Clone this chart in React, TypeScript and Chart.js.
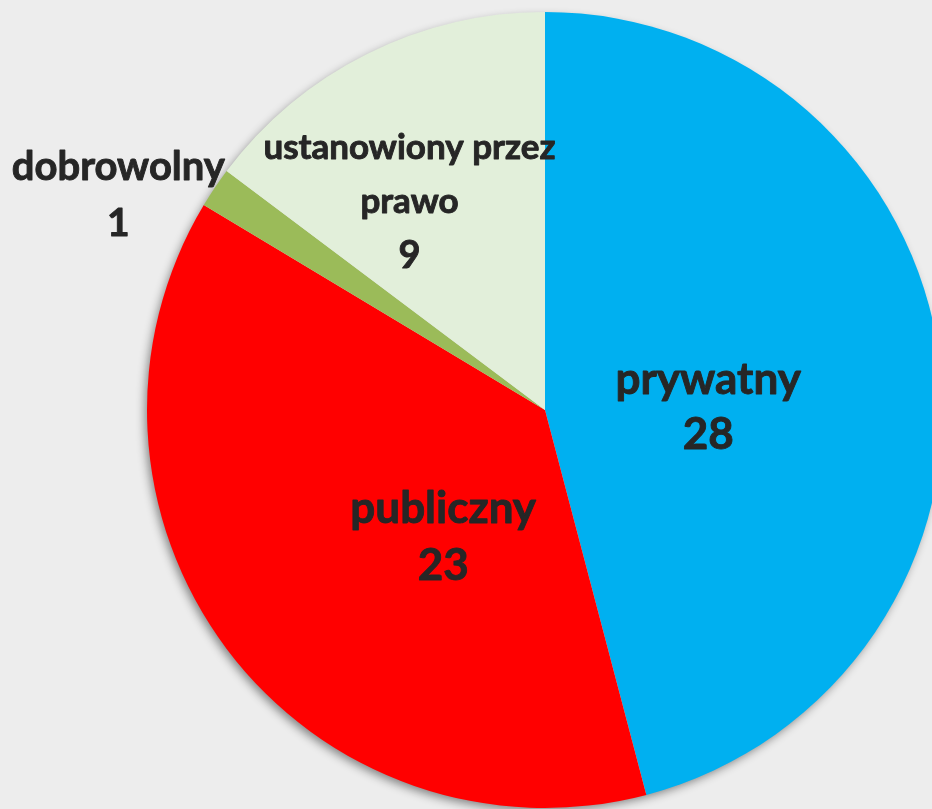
import React, { useEffect, useRef } from "react";
import { Chart, registerables } from "chart.js";

Chart.register(...registerables);

const categories = ["prywatny", "publiczny", "dobrowolny", "ustanowiony przez prawo"];
const values = [28, 23, 1, 9];
const labelLines = [["prywatny"], ["publiczny"], ["dobrowolny"], ["ustanowiony przez", "prawo"]];
const colors = ["#00B0F0", "#FF0000", "#9BBB59", "#E2EFDA"];

// label placement in polar terms relative to the pie (degrees clockwise from top, fraction of radius)
const labelAngle = [88.9, 218.6, 296.7, 327];
const labelRadius = [0.41, 0.41, 1.2, 0.625];
const labelFont = [44, 44, 40, 35];
const valueFont = [44, 44, 39, 38];
const lineGap = [55, 57, 56, 54];

const labelPlugin = {
  id: "pieLabels",
  beforeDatasetsDraw(chart: any) {
    const meta = chart.getDatasetMeta(0);
    const a = meta.data[0];
    if (!a) return;
    const ctx = chart.ctx;
    ctx.save();
    ctx.shadowColor = "rgba(0,0,0,0.45)";
    ctx.shadowBlur = 10;
    ctx.shadowOffsetX = -3;
    ctx.shadowOffsetY = 4;
    ctx.fillStyle = "#dddddd";
    ctx.beginPath();
    ctx.arc(a.x, a.y, a.outerRadius - 1, 0, Math.PI * 2);
    ctx.fill();
    ctx.restore();
  },
  afterDatasetsDraw(chart: any) {
    const meta = chart.getDatasetMeta(0);
    const ctx = chart.ctx;
    ctx.save();
    ctx.fillStyle = "#262626";
    ctx.strokeStyle = "#262626";
    ctx.lineWidth = 0.9;
    ctx.lineJoin = "round";
    ctx.textAlign = "center";
    ctx.textBaseline = "middle";
    meta.data.forEach((arc: any, i: number) => {
      const ang = (labelAngle[i] * Math.PI) / 180;
      const r = arc.outerRadius * labelRadius[i];
      const cx = arc.x + r * Math.sin(ang);
      const cy = arc.y - r * Math.cos(ang);
      const lines = [...labelLines[i], String(values[i])];
      const n = lines.length;
      lines.forEach((t, k) => {
        const isVal = k === n - 1;
        ctx.font = `bold ${isVal ? valueFont[i] : labelFont[i]}px Lato`;
        const y = cy + (k - (n - 1) / 2) * lineGap[i];
        ctx.fillText(t, cx, y);
        ctx.strokeText(t, cx, y);
      });
    });
    ctx.restore();
  },
};

export default function App() {
  const ref = useRef<HTMLCanvasElement | null>(null);
  useEffect(() => {
    if (!ref.current) return;
    const chart = new Chart(ref.current, {
      type: "pie",
      data: {
        labels: categories,
        datasets: [
          {
            data: values,
            backgroundColor: colors,
            borderWidth: 0,
          },
        ],
      },
      options: {
        responsive: false,
        animation: false,
        devicePixelRatio: 1,
        layout: { padding: { top: 12, bottom: 12, left: 0, right: 0 } },
        plugins: { legend: { display: false }, tooltip: { enabled: false } },
      },
      plugins: [labelPlugin],
    });
    return () => chart.destroy();
  }, []);
  return (
    <div
      style={{
        position: "absolute",
        left: 0,
        top: 0,
        width: 932,
        height: 809,
        overflow: "hidden",
        background: "#EDEDED",
      }}
    >
      <canvas ref={ref} width={1090} height={820} style={{ width: 1090, height: 820, display: "block" }} />
    </div>
  );
}
